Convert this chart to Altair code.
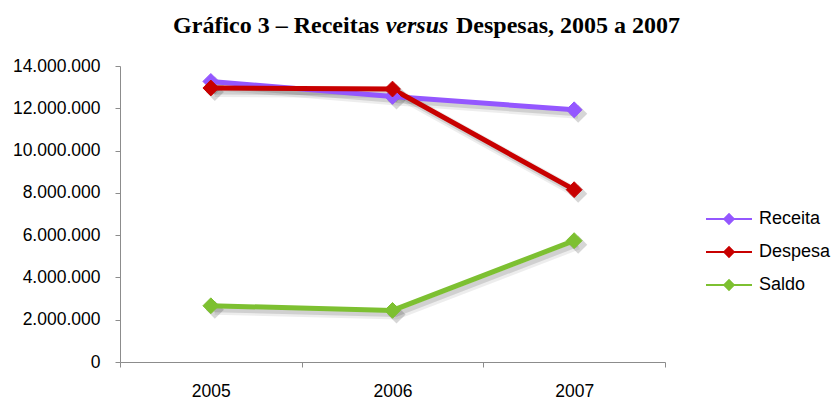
import altair as alt
import pandas as pd

# Annual figures (R$)
years = ["2005", "2006", "2007"]
receita = [13270000, 12560000, 11930000]
despesa = [12960000, 12910000, 8150000]
saldo = [2660000, 2440000, 5740000]

series_names = ["Receita", "Despesa", "Saldo"]
series_colors = ["#9457FF", "#C80000", "#7DC031"]
y_ticks = [0, 2000000, 4000000, 6000000, 8000000, 10000000, 12000000, 14000000]

rows = []
for name, values in zip(series_names, [receita, despesa, saldo]):
    for year, v in zip(years, values):
        rows.append({"ano": year, "valor": v, "serie": name})
df = pd.DataFrame(rows)

FONT = "Liberation Sans"
TITLE_FONT = "Liberation Serif"

x_enc = alt.X(
    "ano:N",
    bandPosition=0.5,
    scale=alt.Scale(type="band", paddingInner=0, paddingOuter=0),
    axis=alt.Axis(
        title=None, labelAngle=0, tickBand="extent", tickSize=5,
        labelPadding=15, labelFontSize=17.5, labelFont=FONT, labelColor="#000",
        domainColor="#8c8c8c", tickColor="#8c8c8c", grid=False,
    ),
)
y_enc = alt.Y(
    "valor:Q",
    scale=alt.Scale(domain=[0, 14000000], nice=False),
    axis=alt.Axis(
        title=None, values=y_ticks, tickSize=5, labelPadding=15,
        labelFontSize=17.5, labelFont=FONT, labelColor="#000",
        labelExpr="replace(format(datum.value, ','), /,/g, '.')",
        domainColor="#8c8c8c", tickColor="#8c8c8c", grid=False,
    ),
)
color_scale = alt.Scale(domain=series_names, range=series_colors)

legend = alt.Legend(
    title=None, orient="none", legendX=596, legendY=140, padding=0,
    symbolType="M-2,0L2,0M0,-0.4L0.4,0L0,0.4L-0.4,0Z",
    symbolSize=529, symbolStrokeWidth=2.2, symbolOpacity=1,
    labelFontSize=18, labelFont=FONT, labelColor="#000",
    labelOffset=17, rowPadding=11,
)

base = alt.Chart(df)

# blurred drop shadow under lines and markers (two soft passes)
shadow_wide = base.mark_line(color="#000", opacity=0.07, strokeWidth=10, xOffset=4, yOffset=4).encode(
    x=x_enc, y=y_enc, detail="serie:N"
)
shadow_line = base.mark_line(color="#000", opacity=0.12, strokeWidth=5, xOffset=3, yOffset=4).encode(
    x=x_enc, y=y_enc, detail="serie:N"
)
shadow_pt = base.mark_point(
    shape="diamond", filled=True, color="#000", opacity=0.16, size=330, xOffset=4, yOffset=4
).encode(x=x_enc, y=y_enc)

lines = base.mark_line(strokeWidth=5).encode(
    x=x_enc, y=y_enc,
    stroke=alt.Stroke("serie:N", scale=color_scale, sort=series_names, legend=legend),
    order=alt.Order("ano:N"),
)
points = base.mark_point(shape="diamond", filled=True, size=250, opacity=1, strokeWidth=1).encode(
    x=x_enc, y=y_enc,
    fill=alt.Fill("serie:N", scale=color_scale, sort=series_names, legend=legend),
    stroke=alt.Stroke("serie:N", scale=color_scale, sort=series_names, legend=legend),
)

# chart title, with the word "versus" in italics
one = alt.Chart(pd.DataFrame({"k": [0]}))
title_style = dict(font=TITLE_FONT, fontSize=24, fontWeight="bold", baseline="alphabetic", color="#000")
t1 = one.mark_text(align="right", **title_style).encode(
    x=alt.value(259), y=alt.value(-33), text=alt.value("Gráfico 3 – Receitas"))
t2 = one.mark_text(align="center", fontStyle="italic", **title_style).encode(
    x=alt.value(297), y=alt.value(-33), text=alt.value("versus"))
t3 = one.mark_text(align="left", **title_style).encode(
    x=alt.value(336), y=alt.value(-33), text=alt.value("Despesas, 2005 a 2007"))

chart = alt.layer(shadow_wide, shadow_line, shadow_pt, lines, points, t1, t2, t3).properties(
    width=545, height=296,
    autosize=alt.AutoSizeParams(type="none"),
    padding={"left": 120, "top": 66, "right": 170, "bottom": 38},
    background="white",
).configure_view(stroke=None)

chart.save("out.html", embed_options={"renderer": "svg", "actions": False})
